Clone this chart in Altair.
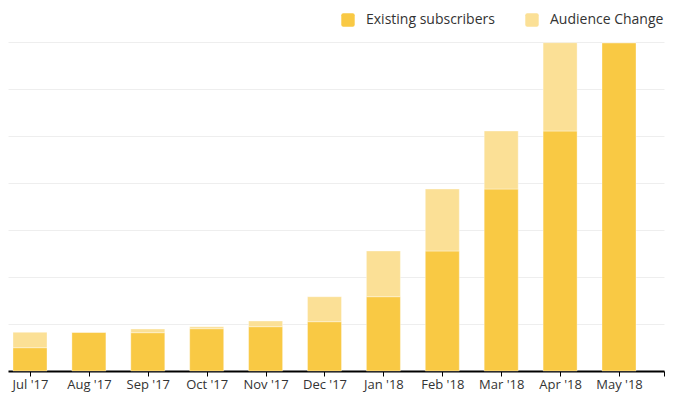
import altair as alt
import pandas as pd

months = ["Jul '17", "Aug '17", "Sep '17", "Oct '17", "Nov '17", "Dec '17",
          "Jan '18", "Feb '18", "Mar '18", "Apr '18", "May '18"]
existing = [496, 823, 815, 900, 943, 1049, 1581, 2553, 3872, 5106, 6985]
change = [327, 0, 79, 43, 121, 532, 972, 1319, 1234, 1879, 0]

series_names = ["Existing subscribers", "Audience Change"]
series_colors = ["#F9C944", "#FBE096"]

rows = []
for i, m in enumerate(months):
    rows.append({"idx": i, "month": m, "series": series_names[0], "value": existing[i], "ord": 0})
    rows.append({"idx": i, "month": m, "series": series_names[1], "value": change[i], "ord": 1})
df = pd.DataFrame(rows)

d0, d1 = -0.3735, 10.764
label_expr = "datum.value > 10.5 ? '' : " + "[" + ",".join("'" + m.replace("'", "\\'") + "'" for m in months) + "][round(datum.value)]"

rounded_square = "M-0.7,-1H0.7Q1,-1 1,-0.7V0.7Q1,1 0.7,1H-0.7Q-1,1 -1,0.7V-0.7Q-1,-1 -0.7,-1Z"

chart = alt.Chart(df).mark_bar(size=34, stroke="#ffffff", strokeOpacity=0.35, strokeWidth=1).encode(
    x=alt.X("idx:Q",
            scale=alt.Scale(domain=[d0, d1], nice=False, zero=False, padding=0),
            axis=alt.Axis(title=None, values=list(range(11)) + [d1], labelExpr=label_expr,
                          grid=False, domainColor="#000000", domainWidth=2,
                          tickColor="#000000", tickSize=5, tickWidth=1,
                          labelColor="#333333", labelFont="Open Sans", labelFontSize=13,
                          labelPadding=2, labelFlush=False, labelOverlap=False)),
    y=alt.Y("value:Q", stack="zero",
            scale=alt.Scale(domain=[0, 7000], nice=False),
            axis=alt.Axis(title=None, labels=False, ticks=False, domain=False,
                          values=[0, 1000, 2000, 3000, 4000, 5000, 6000, 7000],
                          gridColor="#eeeeee", gridWidth=1)),
    color=alt.Color("series:N",
                    scale=alt.Scale(domain=series_names, range=series_colors),
                    legend=alt.Legend(title=None, orient="none", legendX=333, legendY=-29,
                                      direction="horizontal", symbolType=rounded_square,
                                      symbolSize=180, symbolStrokeWidth=0,
                                      labelFont="Open Sans", labelFontSize=14,
                                      labelColor="#333333", labelOffset=11,
                                      columnPadding=30)),
    order=alt.Order("ord:Q"),
).properties(
    width=656, height=329,
    autosize=alt.AutoSizeParams(type="none"),
    padding={"left": 0, "top": 34, "right": 3, "bottom": 22},
).configure_view(stroke=None)

chart.save("out.html", embed_options={"renderer": "svg", "actions": False})
